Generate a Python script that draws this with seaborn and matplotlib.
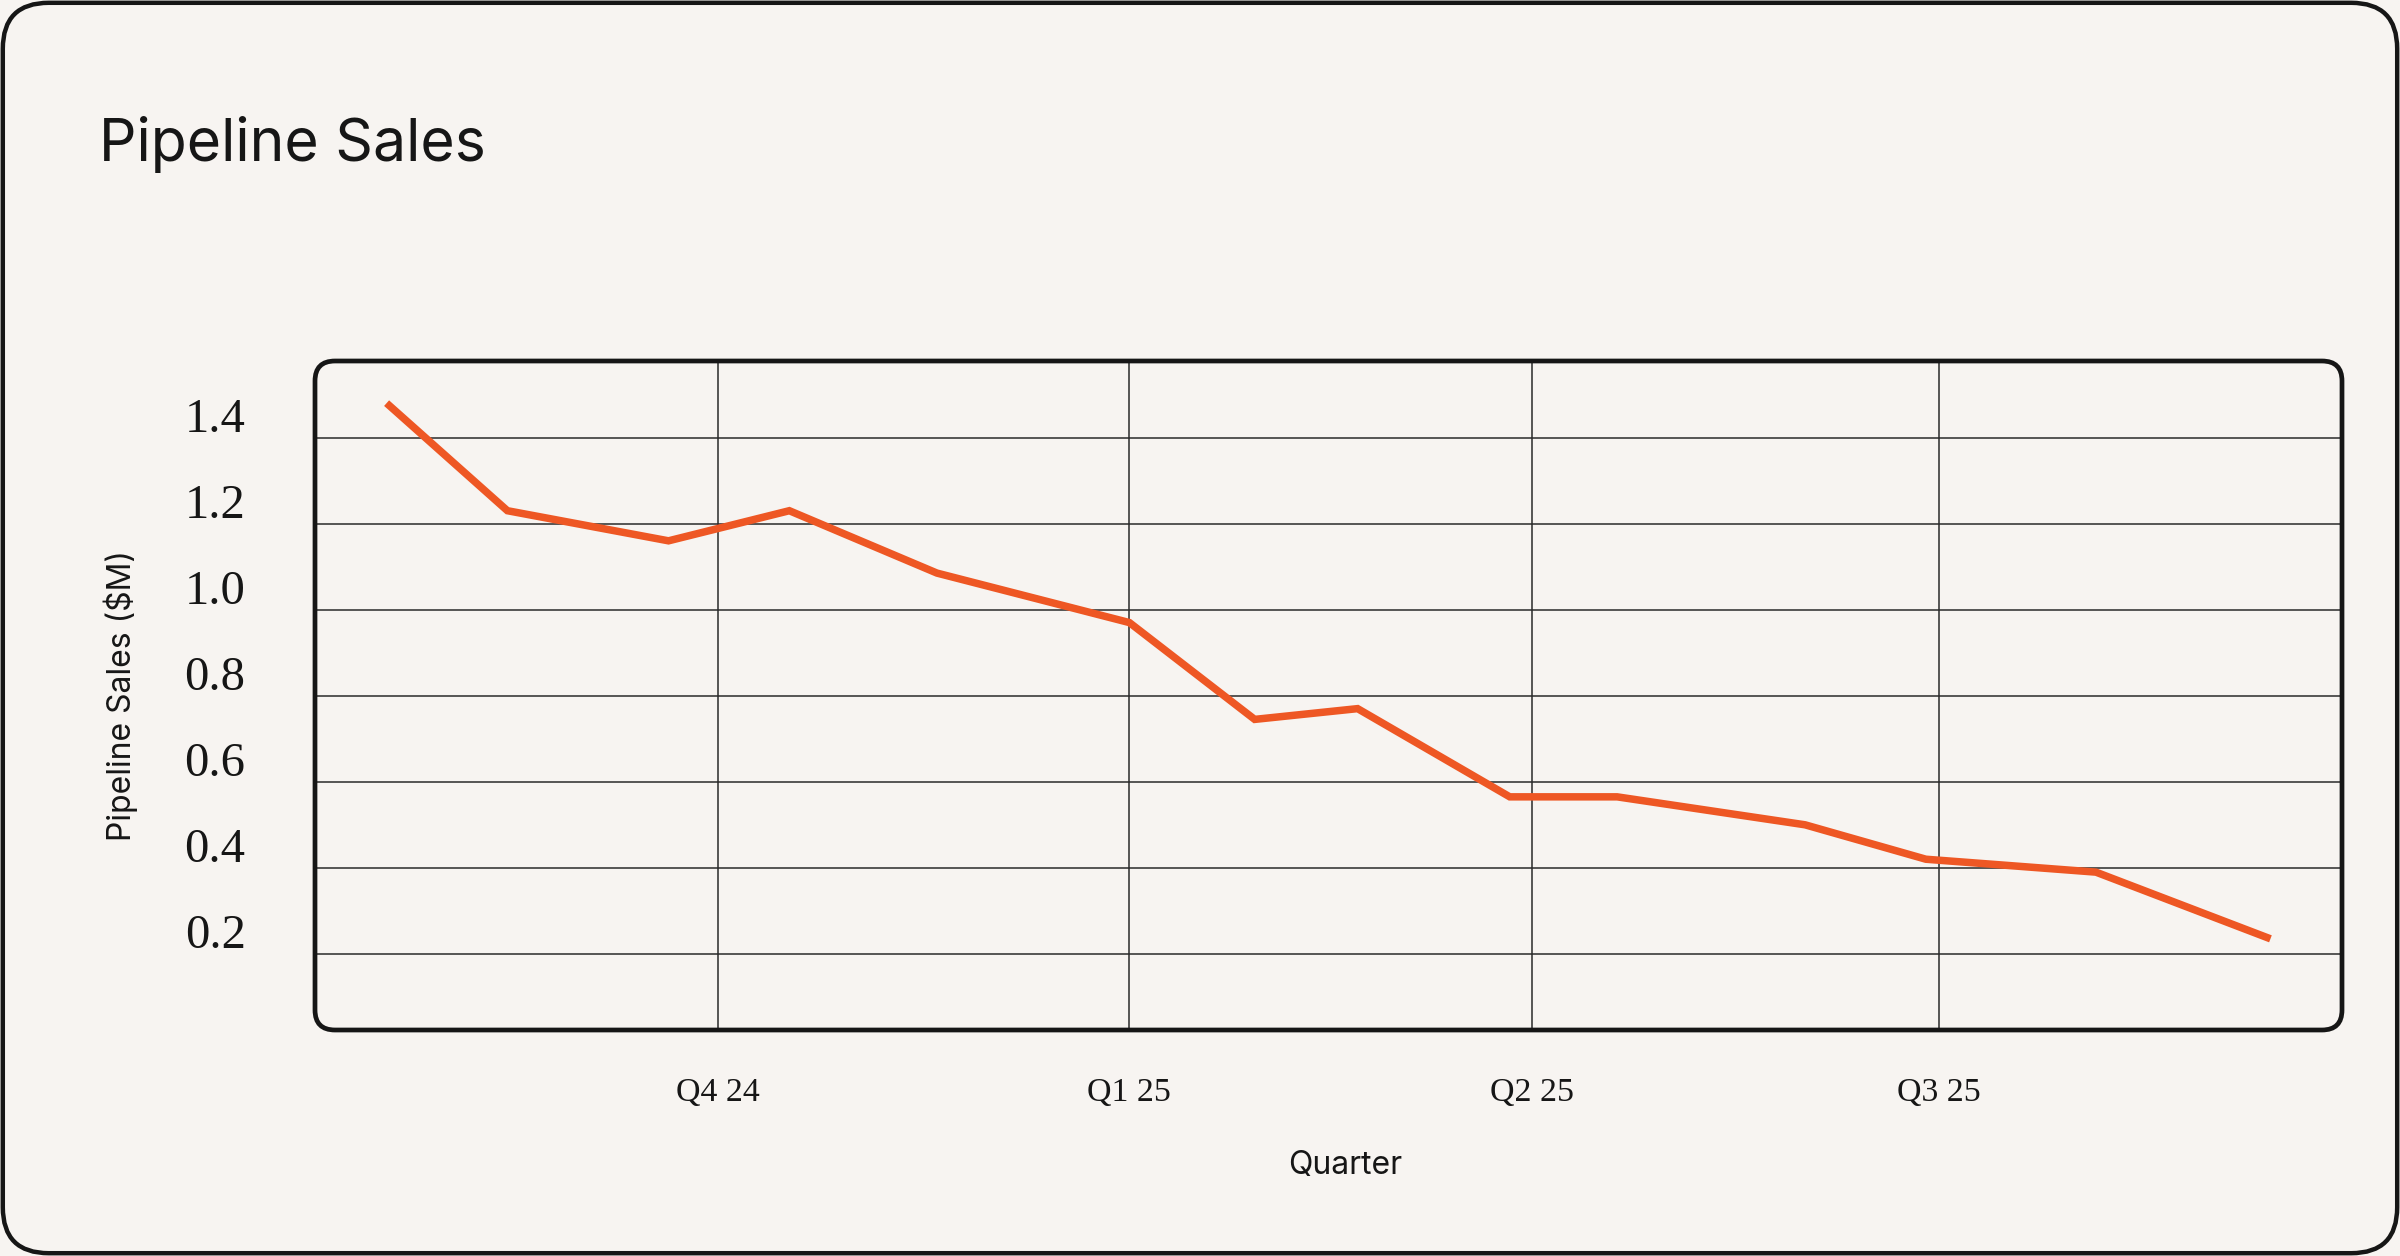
import pandas as pd
import matplotlib
matplotlib.use("Agg")
import matplotlib.pyplot as plt
import matplotlib.transforms as mtransforms
from matplotlib.patches import FancyBboxPatch
import seaborn as sns

# data
dates = ['2024-07-19', '2024-08-15', '2024-09-20', '2024-10-17', '2024-11-19',
         '2025-01-01', '2025-01-29', '2025-02-21', '2025-03-27', '2025-04-20',
         '2025-06-01', '2025-06-28', '2025-08-05', '2025-09-13']
sales = [1.48, 1.23, 1.16, 1.23, 1.085, 0.97, 0.745, 0.77, 0.565, 0.565,
         0.50, 0.42, 0.39, 0.235]
quarter_ticks = ['2024-10-01', '2025-01-01', '2025-04-01', '2025-07-01']
quarter_labels = ['Q4 24', 'Q1 25', 'Q2 25', 'Q3 25']
y_ticks = [0.2, 0.4, 0.6, 0.8, 1.0, 1.2, 1.4]

BG = '#F7F4F1'
LINE = '#EE5724'
INK = '#161616'

sns.set_style('white')
plt.rcParams['font.family'] = ['Inter', 'DejaVu Sans']

df = pd.DataFrame({'date': pd.to_datetime(dates), 'sales': sales})

fig = plt.figure(figsize=(12, 6.28), dpi=200, facecolor=BG)
ax = fig.add_axes([0.13125, 0.1799, 0.8446, 0.5327])
ax.set_facecolor(BG)

sns.lineplot(data=df, x='date', y='sales', ax=ax, color=LINE, linewidth=2.7,
             solid_capstyle='butt', solid_joinstyle='miter', zorder=3)

ax.set_xlim(pd.Timestamp('2024-07-03'), pd.Timestamp('2025-09-29'))
ax.set_ylim(0.023, 1.578)
ax.set_xticks(pd.to_datetime(quarter_ticks))
ax.set_xticklabels(quarter_labels)
ax.set_yticks(y_ticks)
ax.set_yticklabels([f'{v:.1f}' for v in y_ticks])

ax.grid(True, color='#2a2a2a', linewidth=0.55)
for s in ax.spines.values():
    s.set_visible(False)

ax.tick_params(axis='both', length=0)
ax.tick_params(axis='y', pad=25)
ax.tick_params(axis='x', pad=17)
for lab in ax.get_yticklabels():
    lab.set_fontfamily('Liberation Serif')
    lab.set_fontsize(17.5)
    lab.set_color(INK)
    lab.set_transform(lab.get_transform() + mtransforms.ScaledTranslation(0, 23 / 200, fig.dpi_scale_trans))
for lab in ax.get_xticklabels():
    lab.set_fontfamily('Liberation Serif')
    lab.set_fontsize(12.2)
    lab.set_color(INK)

ax.set_xlabel('Quarter', fontsize=11.5, color=INK)
ax.set_ylabel('Pipeline Sales ($M)', fontsize=11.5, color=INK)
ax.xaxis.set_label_coords(0.508, -0.202)
ax.xaxis.label.set_va('center')
ax.yaxis.set_label_coords(-0.0957, 0.5)
ax.yaxis.label.set_va('center')

# rounded box around the plotting area
box = FancyBboxPatch((1.575, 1.13), 10.135, 3.345,
                     boxstyle='round,pad=0,rounding_size=0.1',
                     transform=fig.dpi_scale_trans, fill=False,
                     edgecolor=INK, linewidth=1.7, zorder=10)
fig.add_artist(box)

# outer card frame
frame = FancyBboxPatch((0.014, 0.014), 11.972, 6.252,
                       boxstyle='round,pad=0,rounding_size=0.23',
                       transform=fig.dpi_scale_trans, fill=False,
                       edgecolor=INK, linewidth=1.6, zorder=10)
fig.add_artist(frame)

fig.text(0.04125, 0.8718, 'Pipeline Sales', fontsize=21.2, color=INK,
         ha='left', va='baseline')

plt.savefig('out.png', dpi=200, facecolor=BG)
plt.close(fig)
